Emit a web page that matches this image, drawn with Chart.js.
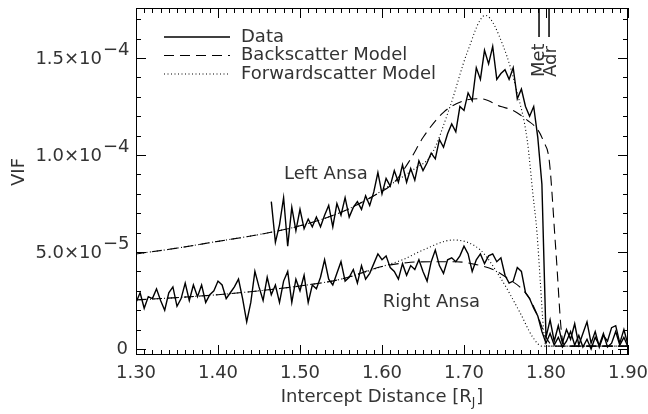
<!DOCTYPE html>
<html>
<head>
<meta charset="utf-8">
<script src="https://cdn.jsdelivr.net/npm/chart.js@4.4.0/dist/chart.umd.min.js"></script>
<style>
html, body { margin: 0; padding: 0; background: #fff; }
canvas { display: block; }
</style>
</head>
<body>
<canvas id="chart" width="648" height="414"></canvas>
<script>
// VIF values are in units of 1e-5
var rightVIF = [
  2.4, 2.9, 2.1, 2.7, 2.6, 3.1, 2.5, 2.0, 2.9, 3.2,
  2.2, 2.6, 3.4, 2.5, 3.3, 2.7, 3.3, 2.4, 2.8, 3.0,
  3.5, 3.3, 2.6, 2.9, 3.2, 3.6, 2.6, 1.4, 2.4, 4.0,
  3.2, 2.5, 3.7, 2.8, 3.3, 2.4, 3.5, 4.0, 2.4, 3.6,
  3.0, 3.8, 2.4, 3.3, 3.1, 3.7, 4.6, 3.6, 3.3, 3.9,
  4.5, 3.5, 3.7, 4.1, 3.4, 4.3, 3.6, 3.9, 4.4, 4.9,
  4.6, 4.8, 4.2, 4.0, 3.6, 4.4, 3.8, 4.3, 4.1, 4.6,
  4.0, 3.5, 4.5, 5.1, 4.3, 3.9, 4.6, 4.7, 4.5, 4.8,
  5.3, 4.9, 4.0, 4.6, 4.9, 4.4, 4.8, 4.9, 4.5, 4.7,
  3.8, 3.4, 3.5, 4.2, 4.0, 2.9, 2.6, 2.1, 1.7, 0.9,
  0.3, 0.8, 0.2, 0.6, 0.1, 0.4, 0.9, 0.2, 0.7, 0.1,
  0.5, 0.0, 0.6, 0.2, 0.8, 0.1, 0.3, 0.9, 0.2, 0.6, 0.1
];
var leftVIF = [
  7.6, 5.5, 6.4, 7.8, 5.3, 7.3, 6.1, 7.2, 6.2, 6.7,
  6.3, 6.8, 6.3, 6.9, 7.4, 6.3, 7.5, 6.9, 7.8, 6.8,
  7.3, 7.6, 7.2, 7.9, 7.4, 8.1, 9.1, 8.0, 8.8, 8.4,
  9.2, 8.6, 9.5, 8.6, 9.3, 8.7, 9.7, 9.2, 9.6, 10.1,
  9.8, 10.8, 10.4, 11.1, 11.6, 11.2, 12.5, 12.3, 13.2, 12.8,
  14.5, 13.9, 15.4, 14.7, 15.6, 13.9, 14.2, 14.4, 13.9, 14.5,
  12.9, 13.4, 12.5, 12.0, 12.5, 10.9, 8.5, 0.6, 1.5, 0.4,
  1.2, 0.3, 1.0, 0.5, 1.3, 0.2, 0.8, 1.4, 0.3, 0.9,
  0.1, 0.7, 0.4, 1.1, 1.2, 0.3, 1.0, 0.2
];
var rightStart = 1.300, leftStart = 1.465, dataStep = 0.005;

// models: common part (both models agree), then the separate tails
var leftModelX = [1.30, 1.35, 1.40, 1.45, 1.50, 1.55, 1.59, 1.615];
var leftModelY = [4.9, 5.2, 5.55, 5.9, 6.35, 7.05, 7.9, 8.6];
var leftBackX = [1.635, 1.65, 1.675, 1.70, 1.72, 1.745, 1.76, 1.777, 1.79, 1.797, 1.804, 1.812, 1.82, 1.825, 1.90];
var leftBackY = [9.8, 10.9, 12.2, 12.8, 12.9, 12.5, 12.3, 11.8, 11.3, 10.7, 9.7, 5.1, 0.5, 0.15, 0.15];
var leftFwdX = [1.64, 1.66, 1.683, 1.704, 1.726, 1.748, 1.765, 1.777, 1.784, 1.789, 1.793, 1.797, 1.80, 1.90];
var leftFwdY = [9.3, 10.0, 12.5, 15.3, 17.2, 15.6, 13.2, 10.8, 8.0, 6.0, 3.5, 1.0, 0.15, 0.15];

var rightModelX = [1.30, 1.35, 1.40, 1.45, 1.50, 1.55, 1.60];
var rightModelY = [2.53, 2.65, 2.8, 3.0, 3.25, 3.6, 4.25];
var rightBackX = [1.63, 1.66, 1.69, 1.715, 1.737, 1.756, 1.768, 1.78, 1.79, 1.80, 1.81, 1.90];
var rightBackY = [4.45, 4.5, 4.5, 4.35, 4.07, 3.56, 3.2, 2.6, 1.7, 0.6, 0.15, 0.15];
var rightFwdX = [1.625, 1.65, 1.687, 1.72, 1.744, 1.768, 1.784, 1.795, 1.90];
var rightFwdY = [4.6, 5.1, 5.62, 5.1, 3.7, 1.9, 0.6, 0.15, 0.15];

var moonNames = ['Met', 'Adr'];
var moonX = [1.7915, 1.8037];
var moonLineY = [17.58, 16.08];

var xMin = 1.30, xMax = 1.90;
var yMin = -0.31, yMax = 17.58;
var xTickValues = [1.30, 1.40, 1.50, 1.60, 1.70, 1.80, 1.90];
var yTickValues = [0, 5, 10, 15];
var yTickLabels = [['0', ''], ['5.0\u00d710', '\u22125'], ['1.0\u00d710', '\u22124'], ['1.5\u00d710', '\u22124']];
var legendNames = ['Data', 'Backscatter Model', 'Forwardscatter Model'];

function pts(xs, ys) {
  return xs.map(function(x, i) { return {x: x, y: ys[i]}; });
}

var rightX = rightVIF.map(function(v, i) { return +(rightStart + i * dataStep).toFixed(3); });
var leftX = leftVIF.map(function(v, i) { return +(leftStart + i * dataStep).toFixed(3); });

var FONT = '"DejaVu Sans", sans-serif';
var TEXT = '#333';
var DASH = [10, 6];
var DOT = [1, 2.5];

var decor = {
  id: 'decor',
  afterDraw: function(chart) {
    var ctx = chart.ctx, a = chart.chartArea;
    var x = chart.scales.x, y = chart.scales.y;
    ctx.save();
    ctx.strokeStyle = '#000';
    ctx.lineWidth = 1;
    ctx.strokeRect(a.left + 0.5, a.top + 0.5, a.right - a.left - 1, a.bottom - a.top - 1);

    function seg(x1, y1, x2, y2) {
      ctx.beginPath(); ctx.moveTo(x1, y1); ctx.lineTo(x2, y2); ctx.stroke();
    }
    // inward ticks on all four sides
    for (var i = 0; i <= 60; i++) {
      var px = Math.round(x.getPixelForValue(xMin + i * 0.01)) + 0.5;
      var len = (i % 10 === 0) ? 10 : 5;
      seg(px, a.bottom, px, a.bottom - len);
      seg(px, a.top, px, a.top + len);
    }
    for (var v = 0; v <= 17; v++) {
      var py = Math.round(y.getPixelForValue(v)) + 0.5;
      var l2 = (v % 5 === 0) ? 10 : 5;
      seg(a.left, py, a.left + l2, py);
      seg(a.right, py, a.right - l2, py);
    }

    ctx.fillStyle = TEXT;
    ctx.font = '18px ' + FONT;
    ctx.textBaseline = 'middle';
    // y tick labels with exponents
    yTickValues.forEach(function(v, k) {
      var py = y.getPixelForValue(v);
      var lab = yTickLabels[k];
      if (lab[1] === '') {
        ctx.textAlign = 'right';
        ctx.fillText(lab[0], 128, py);
      } else {
        ctx.textAlign = 'right';
        ctx.fillText(lab[0], 102, py + 1);
        ctx.textAlign = 'left';
        ctx.fillText(lab[1], 103, py - 8);
      }
    });

    // y title
    ctx.save();
    ctx.translate(19, 172);
    ctx.rotate(-Math.PI / 2);
    ctx.textAlign = 'center';
    ctx.fillText('VIF', 0, 0);
    ctx.restore();

    // x title with subscript
    var t1 = 'Intercept Distance [R', t2 = 'J', t3 = ']';
    ctx.font = '18px ' + FONT;
    var w1 = ctx.measureText(t1).width, w3 = ctx.measureText(t3).width;
    ctx.font = '12px ' + FONT;
    var w2 = ctx.measureText(t2).width;
    var sx = 382 - (w1 + w2 + w3 + 1) / 2;
    ctx.textAlign = 'left';
    ctx.font = '18px ' + FONT;
    ctx.fillText(t1, sx, 397);
    ctx.font = '12px ' + FONT;
    ctx.fillText(t2, sx + w1, 403);
    ctx.font = '18px ' + FONT;
    ctx.fillText(t3, sx + w1 + w2 + 1, 397);

    // legend
    var ds = chart.data.datasets;
    legendNames.forEach(function(name, k) {
      var ly = 37 + k * 18.5;
      var d = ds[k === 0 ? 0 : k + 1];
      ctx.strokeStyle = d.borderColor;
      ctx.lineWidth = d.borderWidth;
      ctx.setLineDash(d.borderDash || []);
      seg(164, ly, 230, ly);
      ctx.setLineDash([]);
      ctx.fillText(name, 241, ly);
    });

    // region labels
    ctx.fillText('Left Ansa', x.getPixelForValue(1.4805), y.getPixelForValue(9.02));
    ctx.fillText('Right Ansa', x.getPixelForValue(1.601), y.getPixelForValue(2.42));

    // moon labels
    moonNames.forEach(function(name, k) {
      ctx.save();
      ctx.translate(x.getPixelForValue(moonX[k]) + k * 2, 77);
      ctx.rotate(-Math.PI / 2);
      ctx.textAlign = 'left';
      ctx.fillText(name, 0, 0);
      ctx.restore();
    });
    ctx.restore();
  }
};

var solid = {borderColor: '#000', borderWidth: 1.4, pointRadius: 0, tension: 0, fill: false};
function model(xs, ys, dash) {
  return {data: pts(xs, ys), borderColor: '#000', borderWidth: 1.1, borderDash: dash,
          pointRadius: 0, cubicInterpolationMode: 'monotone', fill: false};
}

new Chart(document.getElementById('chart'), {
  type: 'line',
  data: {
    datasets: [
      Object.assign({label: 'Data', data: pts(leftX, leftVIF)}, solid),
      Object.assign({label: 'Data right', data: pts(rightX, rightVIF)}, solid),
      model(leftModelX.concat(leftBackX), leftModelY.concat(leftBackY), DASH),
      model(leftModelX.concat(leftFwdX), leftModelY.concat(leftFwdY), DOT),
      model(rightModelX.concat(rightBackX), rightModelY.concat(rightBackY), DASH),
      model(rightModelX.concat(rightFwdX), rightModelY.concat(rightFwdY), DOT),
      {data: [{x: moonX[0], y: moonLineY[0]}, {x: moonX[0], y: moonLineY[1]}], borderColor: '#000', borderWidth: 1.5, pointRadius: 0},
      {data: [{x: moonX[1], y: moonLineY[0]}, {x: moonX[1], y: moonLineY[1]}], borderColor: '#000', borderWidth: 1.5, pointRadius: 0}
    ]
  },
  options: {
    responsive: false,
    animation: false,
    devicePixelRatio: 1,
    layout: { padding: { top: 8, right: 20, left: 0, bottom: 0 } },
    plugins: { legend: { display: false }, tooltip: { enabled: false } },
    scales: {
      x: {
        type: 'linear',
        min: xMin,
        max: xMax,
        afterFit: function(s) { s.height = 59; s.paddingLeft = 0; s.paddingRight = 0; },
        afterBuildTicks: function(s) { s.ticks = xTickValues.map(function(v) { return {value: v}; }); },
        grid: { display: false, drawTicks: false },
        border: { display: false },
        ticks: {
          color: TEXT,
          font: { family: FONT, size: 18 },
          padding: 8,
          maxRotation: 0,
          callback: function(v) { return Number(v).toFixed(2); }
        }
      },
      y: {
        min: yMin,
        max: yMax,
        afterFit: function(s) { s.width = 136; s.paddingTop = 0; s.paddingBottom = 0; },
        grid: { display: false, drawTicks: false },
        border: { display: false },
        ticks: { display: false }
      }
    }
  },
  plugins: [decor]
});
</script>
</body>
</html>
